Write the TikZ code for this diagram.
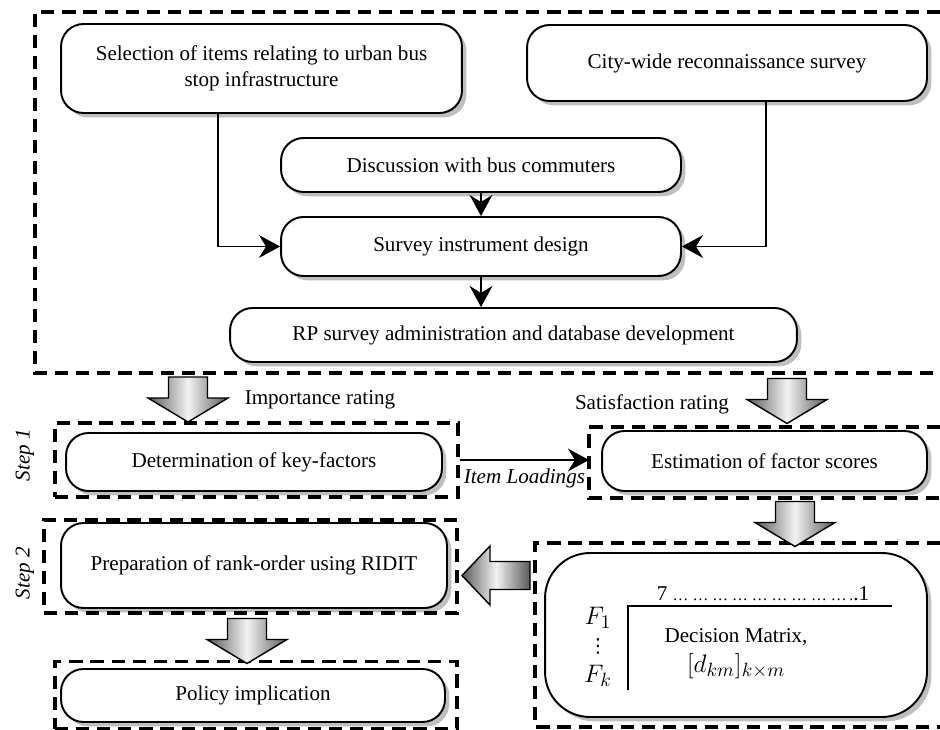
\documentclass[tikz,border=0pt]{standalone}
\usepackage{fontspec}
\setmainfont{Liberation Serif}
\newfontfamily\symfont{DejaVu Sans}
\usetikzlibrary{arrows.meta,shadows}

\newcommand{\txtsize}{\fontsize{12}{14.5}\selectfont}
\newcommand{\dotsize}{\fontsize{9}{11}\selectfont}
\newcommand{\mathsize}{\fontsize{15}{18}\selectfont}

\tikzset{
  box/.style={draw, line width=1.1pt, rounded corners=0.45cm, fill=white, align=center,
    drop shadow={shadow xshift=2.5pt, shadow yshift=-2.5pt, opacity=0.25, fill=black}},
  dashbox/.style={draw, line width=2.1pt, dash pattern=on 7.5pt off 4.5pt},
  flow/.style={-{Stealth[length=12pt,width=13pt,inset=4pt]}, line width=1.1pt},
  pics/fatarrow/.style n args={4}{code={
    \shade[draw=black, line width=0.8pt, left color=gray!70!black, right color=gray!70!black, middle color=gray!10]
      (-#4/2,-#1/2) -- (-#4/2,#1/2-#2) -- (-#3/2,#1/2-#2) -- (0,#1/2)
      -- (#3/2,#1/2-#2) -- (#4/2,#1/2-#2) -- (#4/2,-#1/2) -- cycle;
  }}
}

\begin{document}
\begin{tikzpicture}[x=0.02cm, y=-0.02cm, font=\txtsize]
\useasboundingbox (0,0) rectangle (940,730);

\draw[dashbox] (940,12) -| (35,373) -- (940,373);

\node[box, minimum width=8.02cm, minimum height=1.78cm] (select) at (261.5,68.5)
  {Selection of items relating to urban bus\\ stop infrastructure};
\node[box, minimum width=8cm, minimum height=1.52cm] (city) at (727,63) {City-wide reconnaissance survey};
\node[box, minimum width=8cm, minimum height=1.08cm] (discuss) at (481,165) {Discussion with bus commuters};
\node[box, minimum width=8cm, minimum height=1.18cm] (design) at (481,246.5) {Survey instrument design};
\node[box, minimum width=11.34cm, minimum height=1.08cm] (rpsurvey) at (513.5,335)
  {RP survey administration and database development};

\draw[flow] ([xshift=-0.87cm]select.south) |- (design.west);
\draw[flow] ([xshift=0.78cm]city.south) |- (design.east);
\draw[flow] (discuss) -- (design);
\draw[flow] (design.south) -- (design.south |- rpsurvey.north);

\node (imprate) at (320,400) {Importance rating};
\node (satrate) at (652,404) {Satisfaction rating};

\node[dashbox, minimum width=8.06cm, minimum height=1.48cm] (stepone) at (256.5,460) {};
\node[box, minimum width=7.52cm, minimum height=1.16cm] (keyfac) at (254,462) {Determination of key-factors};

\draw[dashbox] (940,427) -| (589,498) -- (940,498);
\node[box, minimum width=6.5cm, minimum height=1.2cm] (scores) at (764.5,461) {Estimation of factor scores};

\coordinate (scorein) at (589,460);
\draw[flow] (stepone.east) -- (scorein)
  node[midway, below=1pt, font=\txtsize\itshape] (loadings) {Item Loadings};

\node[dashbox, minimum width=8.26cm, minimum height=1.86cm] (steptwo) at (250.5,566.5) {};
\node[box, minimum width=7.72cm, minimum height=1.7cm] (ridit) at (254,565.5) {Preparation of rank-order using RIDIT};

\draw[dashbox] (940,543) -| (535,727) -- (940,727);
\node[box, rounded corners=0.9cm, minimum width=7.64cm, minimum height=3.28cm] (decision) at (736,635) {};
\draw[line width=0.6pt] (892,606) -| (628,690);
\node (scale) at (763,594) {7 {\dotsize … … … … … … … … …\,.}.1};
\node[inner sep=0pt, font=\mathsize] (fone) at (598,618) {$F_1$};
\node[inner sep=0pt, font=\symfont\fontsize{11}{13}\selectfont] (fdots) at (598,646) {⋮};
\node[inner sep=0pt, font=\mathsize] (fk) at (598,676) {$F_k$};
\node[inner sep=1pt] (dmat) at (736,637) {Decision Matrix,};
\node[inner sep=1pt, font=\mathsize] (dkm) at (736,666) {$[d_{km}]_{k\times m}$};

\node[dashbox, minimum width=8.04cm, minimum height=1.34cm] (policybox) at (256,695) {};
\node[box, minimum width=7.68cm, minimum height=1.06cm] (policy) at (253,695.5) {Policy implication};

\node[rotate=90, font=\txtsize\itshape] (sone) at (25,455) {Step 1};
\node[rotate=90, font=\txtsize\itshape] (stwo) at (25,573) {Step 2};

\foreach \x/\y in {188/399.5, 787/401, 795/524, 247/641}{
  \pic at (\x,\y) {fatarrow={45}{24}{80}{39}};
}
\pic[rotate=-90] at (496,575.5) {fatarrow={68}{28}{59}{28}};
\end{tikzpicture}
\end{document}
